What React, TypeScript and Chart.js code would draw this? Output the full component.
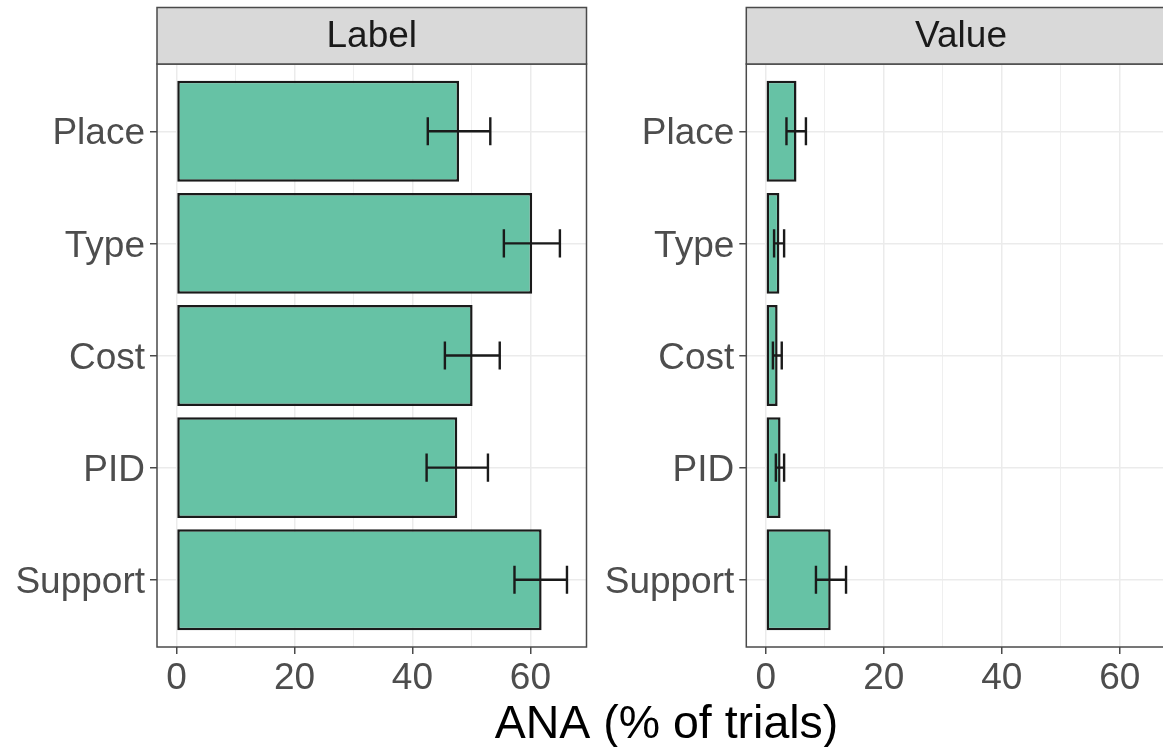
import React, { useEffect, useRef } from "react";
import { Chart, registerables } from "chart.js";

Chart.register(...registerables);

// ---- data ----
const categories = ["Place", "Type", "Cost", "PID", "Support"];
const labelValues = [47.9, 60.3, 50.2, 47.6, 61.9];
const labelLow = [42.6, 55.5, 45.5, 42.4, 57.3];
const labelHigh = [53.2, 65.0, 54.8, 52.8, 66.2];
const valueValues = [5.2, 2.3, 2.0, 2.5, 11.0];
const valueLow = [3.5, 1.4, 1.2, 1.7, 8.5];
const valueHigh = [6.8, 3.1, 2.7, 3.1, 13.6];
const xTicks = [0, 10, 20, 30, 40, 50, 60];
const panelTitles = ["Label", "Value"];
const axisTitle = "ANA (% of trials)";

// ---- layout ----
const FONT = "'Liberation Sans', Arial, Helvetica, sans-serif";
const PAGE_W = 1163;
const PAGE_H = 747;
const PANEL_W = 429.5;
const PANEL_TOP = 64;
const PANEL_BOTTOM = 647;
const STRIP_TOP = 7.5;
const X_MIN = -3.31;
const X_MAX = 69.51;
const BAR_FILL = "#66C2A5";
const INK = "#1a1a1a";
const FRAME = "#4a4a4a";

type PanelSpec = {
  title: string;
  values: number[];
  low: number[];
  high: number[];
  canvasLeft: number;
  canvasWidth: number;
  panelLeft: number;
  withAxisTitle: boolean;
};

function makePanelPlugin(spec: PanelSpec) {
  return {
    id: "panelDecor",
    afterDatasetsDraw(chart: any) {
      const { ctx } = chart;
      const x = chart.scales.x;
      const y = chart.scales.y;
      const band = Math.abs(y.getPixelForValue(1) - y.getPixelForValue(0));
      const half = (band * 0.25) / 2;
      ctx.save();
      ctx.strokeStyle = INK;
      ctx.lineWidth = 2.4;
      spec.low.forEach((lo, i) => {
        const py = y.getPixelForValue(i);
        const x1 = x.getPixelForValue(lo);
        const x2 = x.getPixelForValue(spec.high[i]);
        ctx.beginPath();
        ctx.moveTo(x1, py);
        ctx.lineTo(x2, py);
        ctx.moveTo(x1, py - half);
        ctx.lineTo(x1, py + half);
        ctx.moveTo(x2, py - half);
        ctx.lineTo(x2, py + half);
        ctx.stroke();
      });
      ctx.restore();
    },
    afterDraw(chart: any) {
      const { ctx, chartArea } = chart;
      const { left, right, top, bottom } = chartArea;
      ctx.save();
      // panel border
      ctx.strokeStyle = FRAME;
      ctx.lineWidth = 1.5;
      ctx.strokeRect(left, top, right - left, bottom - top);
      // strip
      ctx.fillStyle = "#D9D9D9";
      ctx.fillRect(left, STRIP_TOP, right - left, top - STRIP_TOP);
      ctx.strokeRect(left, STRIP_TOP, right - left, top - STRIP_TOP);
      ctx.fillStyle = INK;
      ctx.font = `37px ${FONT}`;
      ctx.textAlign = "center";
      ctx.textBaseline = "middle";
      ctx.fillText(spec.title, (left + right) / 2, (STRIP_TOP + top) / 2 + 1);
      if (spec.withAxisTitle) {
        ctx.fillStyle = "#000";
        ctx.font = `46.5px ${FONT}`;
        ctx.textAlign = "center";
        ctx.textBaseline = "alphabetic";
        ctx.fillText(axisTitle, 666.5, 738);
      }
      ctx.restore();
    },
  };
}

function makeChart(canvas: HTMLCanvasElement, spec: PanelSpec) {
  const yAxisWidth = spec.panelLeft - spec.canvasLeft;
  const padRight = spec.canvasWidth - (yAxisWidth + PANEL_W);
  const tickFont = { family: FONT, size: 37 };
  return new Chart(canvas, {
    type: "bar",
    data: {
      datasets: [
        {
          data: spec.values.map((v, i) => ({ x: v, y: i })),
          backgroundColor: BAR_FILL,
          borderColor: INK,
          borderWidth: 2.5,
          borderSkipped: false,
          barPercentage: 0.9,
          categoryPercentage: 1,
        } as any,
      ],
    },
    options: {
      indexAxis: "y",
      responsive: false,
      maintainAspectRatio: false,
      animation: false,
      layout: { padding: { left: 0, right: padRight, top: PANEL_TOP, bottom: 0 } },
      plugins: { legend: { display: false }, tooltip: { enabled: false } },
      scales: {
        x: {
          type: "linear",
          position: "bottom",
          min: X_MIN,
          max: X_MAX,
          offset: false,
          afterBuildTicks: (s: any) => {
            s.ticks = xTicks.map((v) => ({ value: v }));
          },
          afterFit: (s: any) => {
            s.height = PAGE_H - PANEL_BOTTOM;
          },
          ticks: {
            autoSkip: false,
            maxRotation: 0,
            minRotation: 0,
            padding: 3,
            color: "#4D4D4D",
            font: tickFont,
            callback: (v: any) => (Number(v) % 20 === 0 ? String(v) : ""),
          },
          grid: {
            offset: false,
            color: "#EBEBEB",
            lineWidth: (c: any) => (c.tick && c.tick.value % 20 === 0 ? 1.5 : 0.8),
            tickColor: (c: any) => (c.tick && c.tick.value % 20 === 0 ? FRAME : "rgba(0,0,0,0)"),
            tickLength: 7,
            tickWidth: 1.5,
          },
          border: { display: false },
        },
        y: {
          type: "linear",
          position: "left",
          min: -0.6,
          max: 4.6,
          reverse: true,
          offset: false,
          afterBuildTicks: (s: any) => {
            s.ticks = categories.map((_, i) => ({ value: i }));
          },
          afterFit: (s: any) => {
            s.width = yAxisWidth;
          },
          ticks: {
            autoSkip: false,
            padding: 5,
            labelOffset: 3,
            color: "#4D4D4D",
            font: tickFont,
            callback: (v: any) => categories[Number(v)] ?? "",
          },
          grid: {
            offset: false,
            color: "#EBEBEB",
            lineWidth: 1.5,
            tickColor: FRAME,
            tickLength: 7,
            tickWidth: 1.5,
          },
          border: { display: false },
        },
      },
    } as any,
    plugins: [makePanelPlugin(spec)],
  });
}

const LEFT_SPEC: PanelSpec = {
  title: panelTitles[0],
  values: labelValues,
  low: labelLow,
  high: labelHigh,
  canvasLeft: 0,
  canvasWidth: PAGE_W,
  panelLeft: 157,
  withAxisTitle: true,
};

const RIGHT_SPEC: PanelSpec = {
  title: panelTitles[1],
  values: valueValues,
  low: valueLow,
  high: valueHigh,
  canvasLeft: 580,
  canvasWidth: 620,
  panelLeft: 746.3,
  withAxisTitle: false,
};

export default function App() {
  const leftRef = useRef<HTMLCanvasElement>(null);
  const rightRef = useRef<HTMLCanvasElement>(null);

  useEffect(() => {
    const charts: Chart[] = [];
    if (leftRef.current) charts.push(makeChart(leftRef.current, LEFT_SPEC));
    if (rightRef.current) charts.push(makeChart(rightRef.current, RIGHT_SPEC));
    return () => charts.forEach((c) => c.destroy());
  }, []);

  return (
    <div
      style={{
        position: "absolute",
        left: 0,
        top: 0,
        width: PAGE_W,
        height: PAGE_H,
        overflow: "hidden",
        background: "#fff",
      }}
    >
      <canvas
        ref={leftRef}
        width={LEFT_SPEC.canvasWidth}
        height={PAGE_H}
        style={{ position: "absolute", left: LEFT_SPEC.canvasLeft, top: 0, width: LEFT_SPEC.canvasWidth, height: PAGE_H }}
      />
      <canvas
        ref={rightRef}
        width={RIGHT_SPEC.canvasWidth}
        height={PAGE_H}
        style={{ position: "absolute", left: RIGHT_SPEC.canvasLeft, top: 0, width: RIGHT_SPEC.canvasWidth, height: PAGE_H }}
      />
    </div>
  );
}
